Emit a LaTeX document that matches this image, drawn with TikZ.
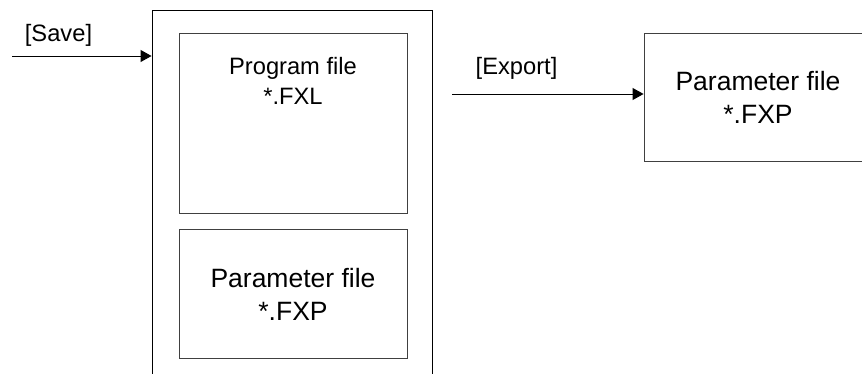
\documentclass[tikz,border=0pt]{standalone}
\usepackage{fontspec}
\setmainfont{Liberation Sans}
\usetikzlibrary{arrows.meta,positioning}
\tikzset{filebox/.style={draw=black!75,line width=.9pt,rectangle,align=center,inner sep=0pt},
flow/.style={-{Triangle[length=11pt,width=12pt]},line width=.9pt},
midtxt/.style={font=\fontsize{23.7}{30}\selectfont,align=center},
bigtxt/.style={font=\fontsize{26.5}{33}\selectfont,align=center}}
\begin{document}
\begin{tikzpicture}[x=1pt,y=-1pt]
\clip (0,0) rectangle (862,374);
% project file holding both parts
\node[filebox,draw=black,minimum width=280,minimum height=390] (store) at (292,205) {};
\node[filebox,minimum width=228,minimum height=180] (prog) at (293,123) {};
\node[midtxt,below=21pt of prog.north] (progtxt) {Program file\\*.FXL};
\node[filebox,bigtxt,minimum width=228,minimum height=129,below=16pt of prog] (param) {Parameter file\\*.FXP};
% exported file
\node[filebox,bigtxt,minimum width=228,minimum height=128] (outparam) at (758,97) {Parameter file\\*.FXP};
% arrows
\coordinate (savefrom) at (12,56);
\coordinate (expfrom) at (452,94);
\draw[flow] (savefrom) -- (savefrom -| store.west);
\draw[flow] (expfrom) -- (expfrom -| outparam.west);
\node[midtxt] (savelbl) at (58.5,35) {[Save]};
\node[midtxt] (explbl) at (516.5,68) {[Export]};
\end{tikzpicture}
\end{document}
